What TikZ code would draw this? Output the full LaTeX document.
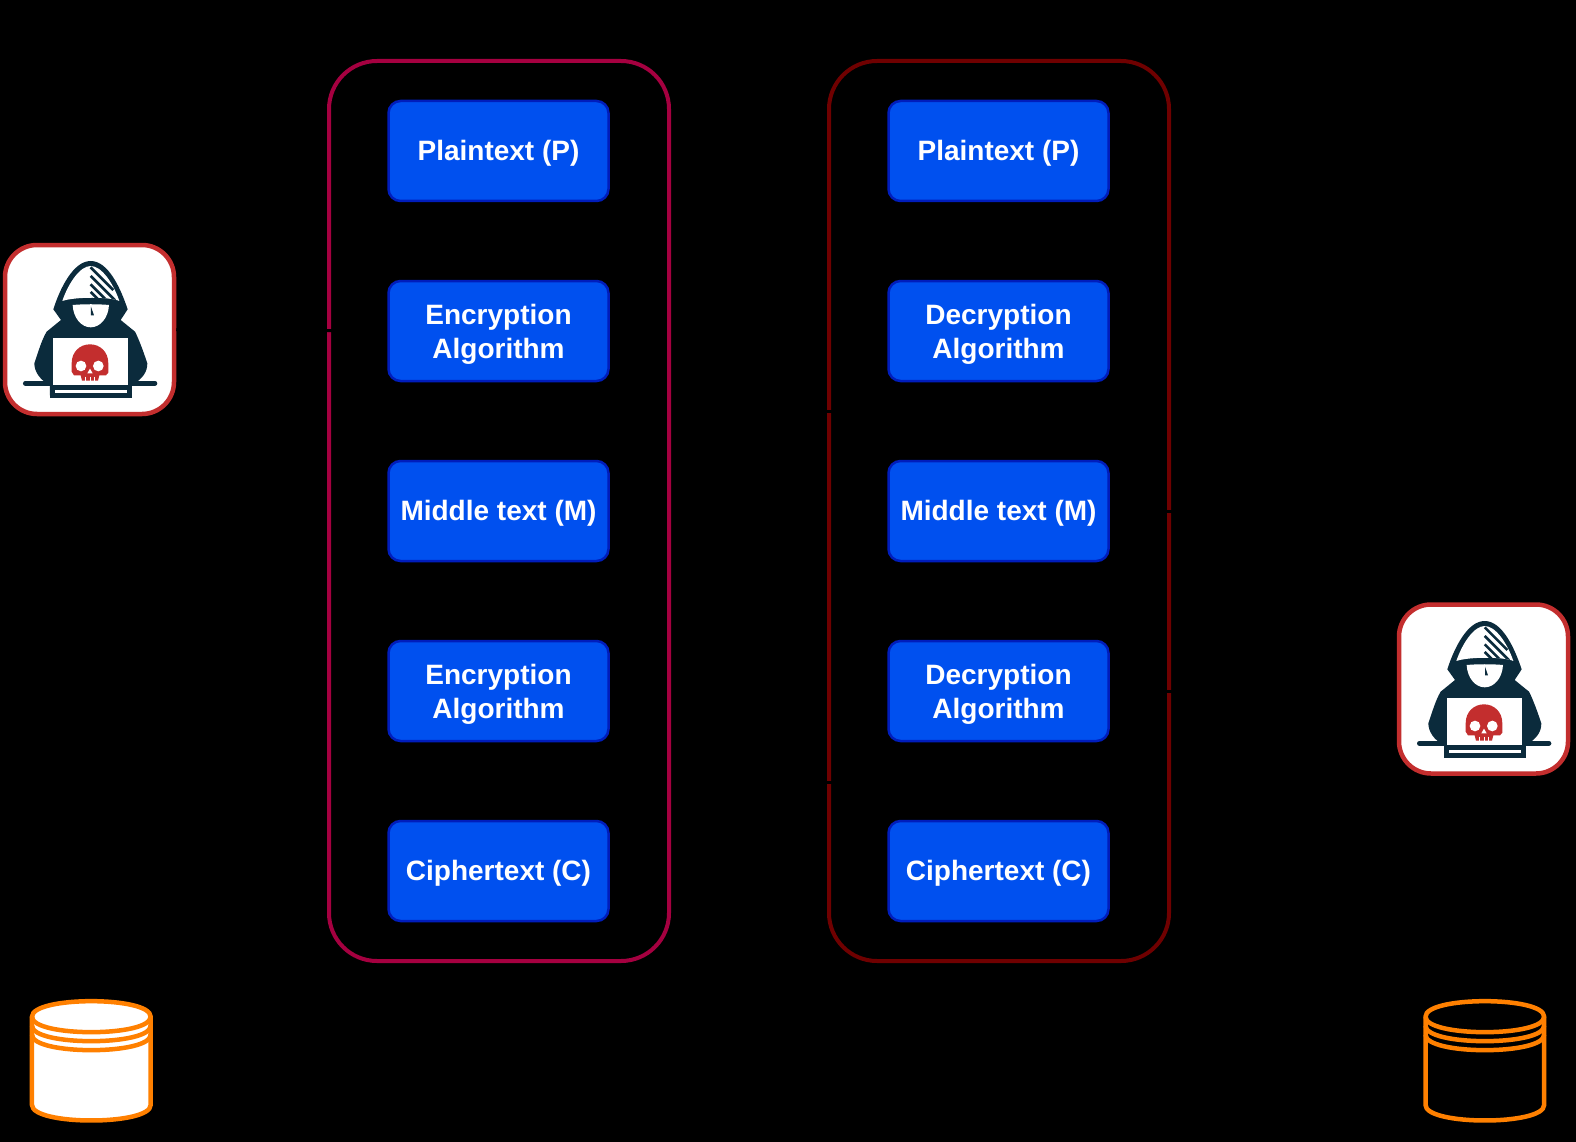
\documentclass[tikz,border=0pt]{standalone}
\usepackage{fontspec}
\setmainfont{Liberation Sans}
\usetikzlibrary{arrows.meta,calc}
\definecolor{bluefill}{HTML}{0050EF}
\definecolor{blueedge}{HTML}{001DBC}
\definecolor{crimsonedge}{HTML}{A50040}
\definecolor{darkrededge}{HTML}{6F0000}
\definecolor{hackred}{HTML}{C32E2E}
\definecolor{hackdark}{HTML}{0B2B3C}
\definecolor{dborange}{HTML}{FF8000}
\tikzset{
  stagebox/.style={draw=blueedge,fill=bluefill,line width=2.5pt,rounded corners=12pt,minimum width=220pt,minimum height=100pt,inner sep=0pt,text=white,align=center,font=\fontsize{28}{34}\selectfont\bfseries,execute at begin node={\rule{0pt}{25pt}}},
  stagetwo/.style={stagebox,execute at begin node={\rule{0pt}{60pt}}},
  groupframe/.style={line width=4pt,rounded corners=48pt,minimum width=340pt,minimum height=900pt,inner sep=0pt},
  hackerbox/.style={draw=hackred,fill=white,line width=4.5pt,rounded corners=32pt,minimum size=169pt,inner sep=0pt},
  flowline/.style={draw=black,line width=3pt},
  flowarrow/.style={flowline,-{Stealth[length=14pt,width=12pt]}},
  darklabel/.style={text=black,font=\fontsize{24}{36}\selectfont,align=center,inner sep=0pt},
  titlelabel/.style={text=black,font=\fontsize{28}{34}\selectfont\bfseries,inner sep=0pt},
  anchorpt/.style={inner sep=0pt,minimum width=123pt,minimum height=124pt}
}
\newcommand{\hackerIcon}[2]{%
\begin{scope}[shift={(#1,#2)},x=0.3333pt,y=-0.3333pt]
  \draw[hackdark,line width=4.7pt,line cap=round] (76,460) -- (150,460);
  \draw[hackdark,line width=4.7pt,line cap=round] (395,460) -- (465,460);
  \fill[hackdark] (272,93) .. controls (325,93) and (362,175) .. (383,238)
    -- (362,270) -- (405,305) .. controls (418,330) and (432,370) .. (442,400)
    .. controls (442,425) and (430,445) .. (395,466) -- (395,496) -- (388,503) -- (157,503) -- (150,496)
    -- (150,466) .. controls (120,450) and (103,425) .. (103,400)
    .. controls (115,365) and (125,330) .. (140,305) -- (183,270) -- (160,238)
    .. controls (180,175) and (220,93) .. (272,93) -- cycle;
  \fill[white] (187,213) .. controls (205,160) and (240,108) .. (272,108)
    .. controls (305,108) and (340,160) .. (358,213)
    .. controls (330,200) and (225,200) .. (187,213) -- cycle;
  \begin{scope}
    \clip (187,213) .. controls (205,160) and (240,108) .. (272,108)
    .. controls (305,108) and (340,160) .. (358,213)
    .. controls (330,200) and (225,200) .. (187,213) -- cycle;
    \draw[hackdark,line width=2.6pt] (272,112) -- (340,180);
    \draw[hackdark,line width=2.6pt] (272,138) -- (345,211);
    \draw[hackdark,line width=2.6pt] (272,163) -- (318,209);
    \draw[hackdark,line width=2.6pt] (272,186) -- (296,210);
  \end{scope}
  \fill[white] (218,225) .. controls (250,222) and (295,222) .. (327,225)
    .. controls (325,265) and (300,292) .. (272,292)
    .. controls (245,292) and (220,265) .. (218,225) -- cycle;
  \fill[hackdark] (273,230) -- (282,256) -- (273,256) -- cycle;
  \fill[white] (160,325) rectangle (385,465);
  \fill[hackdark] (150,466) rectangle (395,503);
  \fill[white] (165,481) rectangle (380,490);
  \fill[hackred] (215,425) -- (215,400) .. controls (215,365) and (240,343) .. (270,343)
    .. controls (300,343) and (325,365) .. (325,400) -- (325,428) -- (318,436) -- (298,436)
    -- (294,452) -- (246,452) -- (242,436) -- (222,436) -- cycle;
  \fill[white] (243,408) circle[radius=16];
  \fill[white] (295,408) circle[radius=16];
  \fill[white] (270,416) -- (278,430) -- (262,430) -- cycle;
  \draw[white,line width=0.7pt] (257,440) -- (257,452) (270,440) -- (270,452) (283,440) -- (283,452);
\end{scope}}
\newcommand{\dbIcon}[3]{%
\begin{scope}[shift={(#1,#2)},x=0.3333pt,y=-0.3333pt,line width=4.5pt,draw=dborange]
  \path[#3] (96,170) -- (96,435) .. controls (96,497) and (452,497) .. (452,435) -- (452,170)
    .. controls (452,108) and (96,108) .. (96,170) -- cycle;
  \draw (96,170) -- (96,435) .. controls (96,497) and (452,497) .. (452,435) -- (452,170)
    .. controls (452,108) and (96,108) .. (96,170) -- cycle;
  \draw (96,170) .. controls (96,232) and (452,232) .. (452,170);
  \draw (96,197) .. controls (96,259) and (452,259) .. (452,197);
  \draw (96,224) .. controls (96,286) and (452,286) .. (452,224);
\end{scope}}
\begin{document}
\begin{tikzpicture}[x=1pt,y=-1pt]
\useasboundingbox (0,0) rectangle (1576,1142);
\fill[black] (0,0) rectangle (1576,1142);
% stages
\node[stagebox] (P1) at (498.5,151) {Plaintext (P)};
\node[stagetwo] (E1) at (498.5,331) {Encryption\\Algorithm};
\node[stagebox] (M1) at (498.5,511) {Middle text (M)};
\node[stagetwo] (E2) at (498.5,691) {Encryption\\Algorithm};
\node[stagebox] (C1) at (498.5,871) {Ciphertext (C)};
\node[stagebox] (P2) at (998.5,151) {Plaintext (P)};
\node[stagetwo] (D1) at (998.5,331) {Decryption\\Algorithm};
\node[stagebox] (M2) at (998.5,511) {Middle text (M)};
\node[stagetwo] (D2) at (998.5,691) {Decryption\\Algorithm};
\node[stagebox] (C2) at (998.5,871) {Ciphertext (C)};
% flows inside groups
\draw[flowarrow,shorten >=3pt,shorten <=3pt] (P1) -- (E1);
\draw[flowarrow,shorten >=3pt,shorten <=3pt] (E1) -- (M1);
\draw[flowarrow,shorten >=3pt,shorten <=3pt] (M1) -- (E2);
\draw[flowarrow,shorten >=3pt,shorten <=3pt] (E2) -- (C1);
\draw[flowarrow,shorten >=3pt,shorten <=3pt] (C2) -- (D2);
\draw[flowarrow,shorten >=3pt,shorten <=3pt] (D2) -- (M2);
\draw[flowarrow,shorten >=3pt,shorten <=3pt] (M2) -- (D1);
\draw[flowarrow,shorten >=3pt,shorten <=3pt] (D1) -- (P2);
% decryption group frame lies under the key lines
\node[groupframe,draw=darkrededge] (GD) at (999,511) {};
\coordinate (ka) at (498.5,411);
\coordinate (kb) at (998.5,411);
\coordinate (kc) at (498.5,782);
\coordinate (kd) at (998.5,782);
\draw[flowline] (ka) -- (kb);
\draw[flowline] (kc) -- (kd);
% encryption group frame lies over the key lines
\node[groupframe,draw=crimsonedge] (GE) at (499,511) {};
% attackers
\node[hackerbox] (H1) at (89.5,329.5) {};
\node[hackerbox] (H2) at (1483.5,689) {};
\hackerIcon{0}{230}
\hackerIcon{1394}{590}
% tables
\node[anchorpt] (T1) at (91.5,1061) {};
\node[anchorpt] (T2) at (1485,1061) {};
\dbIcon{0}{960}{fill=white}
\dbIcon{1393.5}{960}{}
% attacker connectors
\draw[flowarrow,shorten >=3pt] (H1.east) -- (E1.west);
\draw[flowarrow,shorten <=3pt,shorten >=3pt] (D2.east) -- (H2.west |- D2.east);
\draw[flowarrow,shorten <=3pt,shorten >=3pt] (M2.east) -| (H2.north);
\draw[flowarrow,shorten <=3pt,shorten >=3pt] (H1.south) -- (T1.north);
\draw[flowarrow,shorten <=3pt,shorten >=3pt] (H2.south) -- (T2.north);
\draw[flowline,{Stealth[length=14pt,width=12pt]}-{Stealth[length=14pt,width=12pt]},shorten <=3pt,shorten >=3pt] (T1.east) -- (T2.west);
% labels
\node[titlelabel] (TE) at (499,31) {Encryption};
\node[titlelabel] (TD) at (997,31) {Decryption};
\node[darklabel] (L1) at (257,402) {Try with\\a set\\of keys};
\node[darklabel] (L2) at (1285,622) {Try with\\a set\\of keys};
\node[darklabel,rotate=90] (L3) at (42,689) {Stores all the results by encrypting P};
\node[darklabel,font=\fontsize{24}{34}\selectfont] (L4) at (1325,851) {Stores all the results\\by decrypting C};
\node[darklabel] (L5) at (750,1111) {Compare both lists and find the match for the keys};
\node[darklabel] (K1) at (445,411) {K1};
\node[darklabel] (K2) at (448,771) {K2};
\end{tikzpicture}
\end{document}
